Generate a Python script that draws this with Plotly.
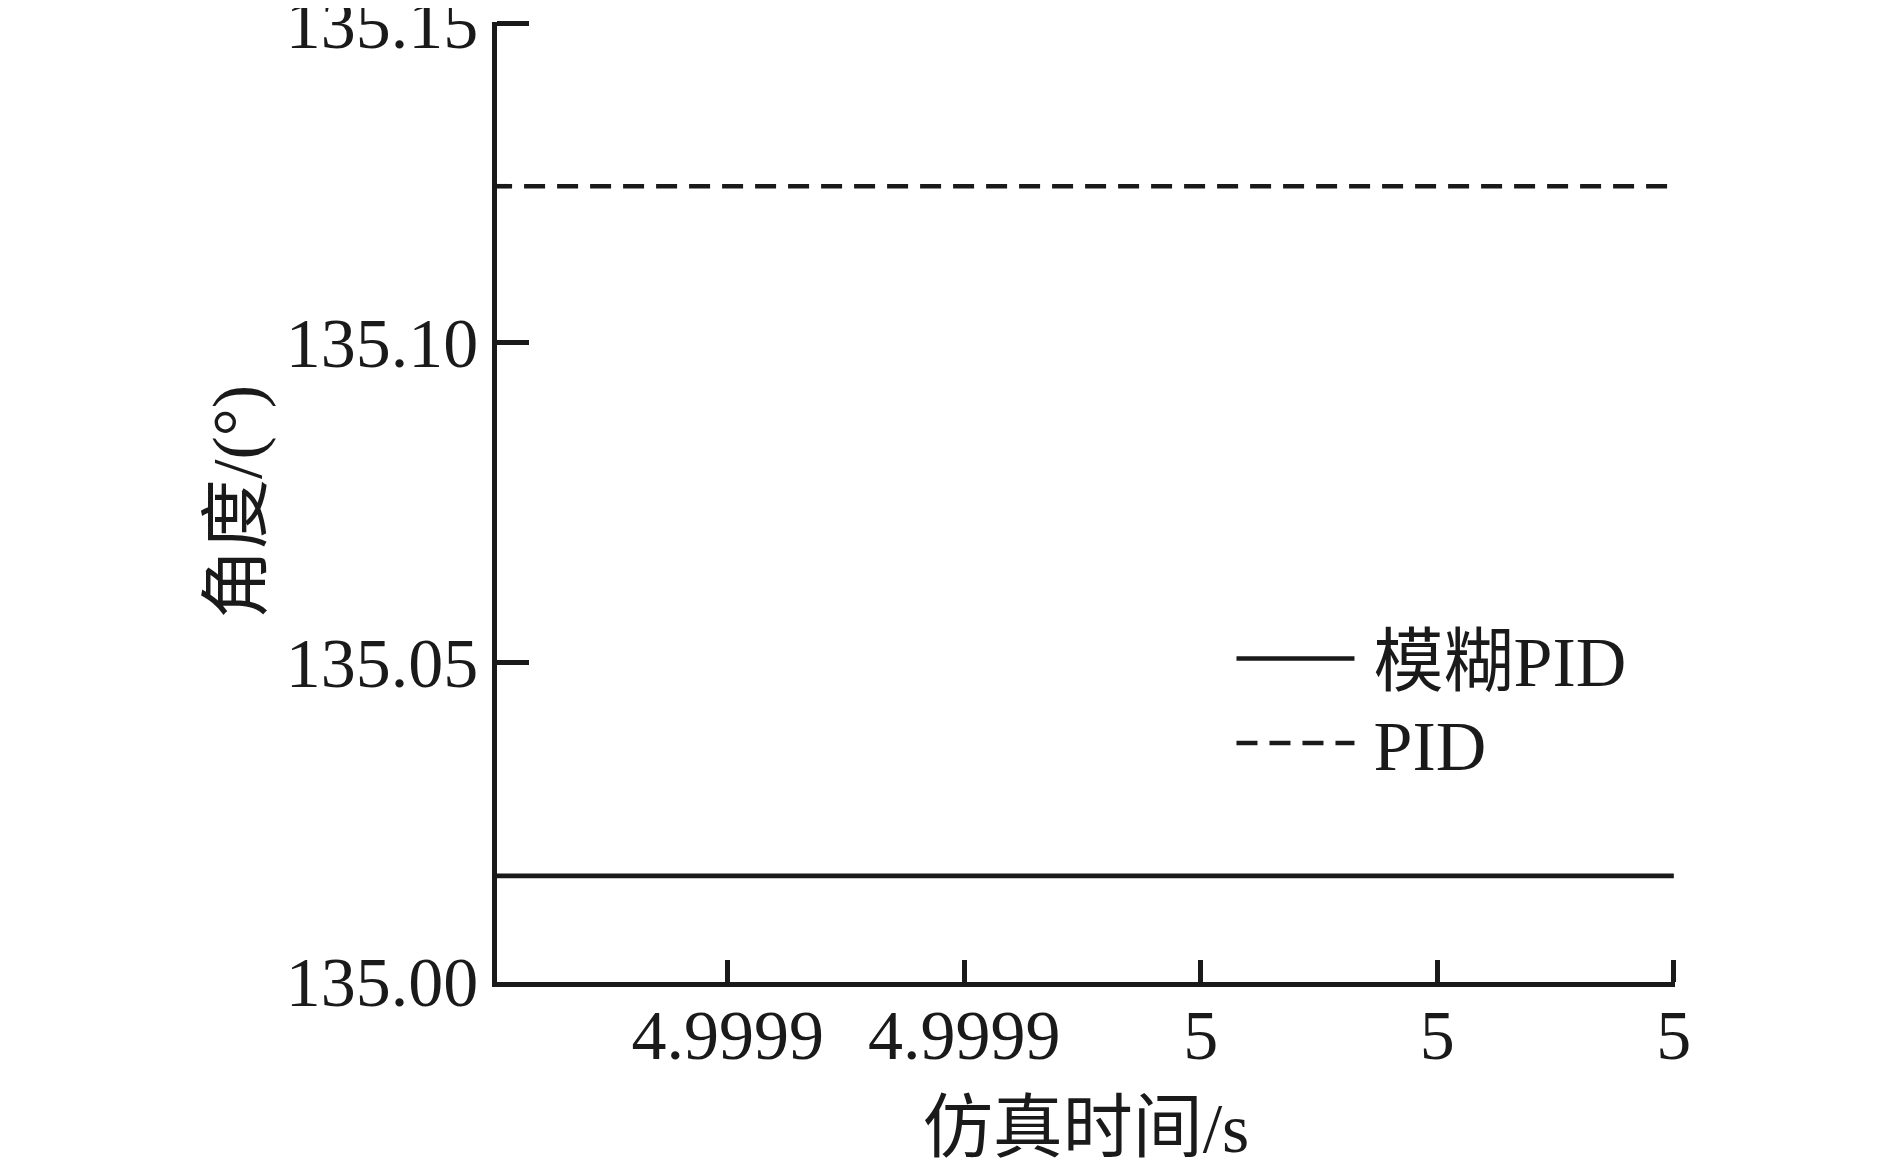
import plotly.graph_objects as go

# data
x_time = [4.99990, 5.00000]
fuzzy_pid = [135.0166, 135.0166]
pid = [135.1245, 135.1245]

x_tickvals = [4.99992, 4.99994, 4.99996, 4.99998, 5.00000]
x_ticktext = ['4.9999', '4.9999', '5', '5', '5']
y_tickvals = [135.00, 135.05, 135.10, 135.15]
y_ticktext = ['135.00', '135.05', '135.10', '135.15']

ink = '#1a1a1a'
font_family = 'Liberation Serif, Times New Roman, Noto Sans CJK SC, serif'

fig = go.Figure()
fig.add_trace(go.Scatter(x=x_time, y=fuzzy_pid, mode='lines', name='\u2009模糊PID',
                         line=dict(color=ink, width=4.6), legend='legend'))
fig.add_trace(go.Scatter(x=x_time, y=pid, mode='lines', name='\u2009PID',
                         line=dict(color=ink, width=4.6, dash='21px,12px'), legend='legend2'))

legend_style = dict(xanchor='left', yanchor='middle', bgcolor='rgba(0,0,0,0)',
                    itemwidth=118, font=dict(size=70, family=font_family, color=ink))

# page body adds a small offset, so margins are trimmed a bit on the left/top
fig.update_layout(
    width=1889, height=1162,
    margin=dict(l=489, r=222, t=14, b=188, autoexpand=False),
    plot_bgcolor='white', paper_bgcolor='white',
    font=dict(family=font_family, size=70, color=ink),
    showlegend=True,
    legend=dict(x=0.6235, y=0.337, **legend_style),
    legend2=dict(x=0.6235, y=0.249, **legend_style),
)

fig.update_xaxes(
    range=[4.9999005, 5.0000001],
    tickmode='array', tickvals=x_tickvals, ticktext=x_ticktext,
    ticks='inside', ticklen=22, tickwidth=4.6, tickcolor=ink,
    showline=True, linewidth=4.6, linecolor=ink, mirror=False,
    showgrid=False, zeroline=False, automargin=False,
    ticklabelstandoff=-12, ticklabeloverflow='allow',
    title=dict(text='仿真时间/s', standoff=32, font=dict(size=70)),
)
fig.update_yaxes(
    range=[134.99999, 135.1502],
    tickmode='array', tickvals=y_tickvals, ticktext=y_ticktext,
    ticks='inside', ticklen=32, tickwidth=4.6, tickcolor=ink,
    showline=True, linewidth=4.6, linecolor=ink, mirror=False,
    showgrid=False, zeroline=False, automargin=False,
    ticklabelstandoff=0, ticklabeloverflow='allow',
    title=dict(text='角度/(°)', standoff=3, font=dict(size=70)),
)

fig.write_html('out.html')
